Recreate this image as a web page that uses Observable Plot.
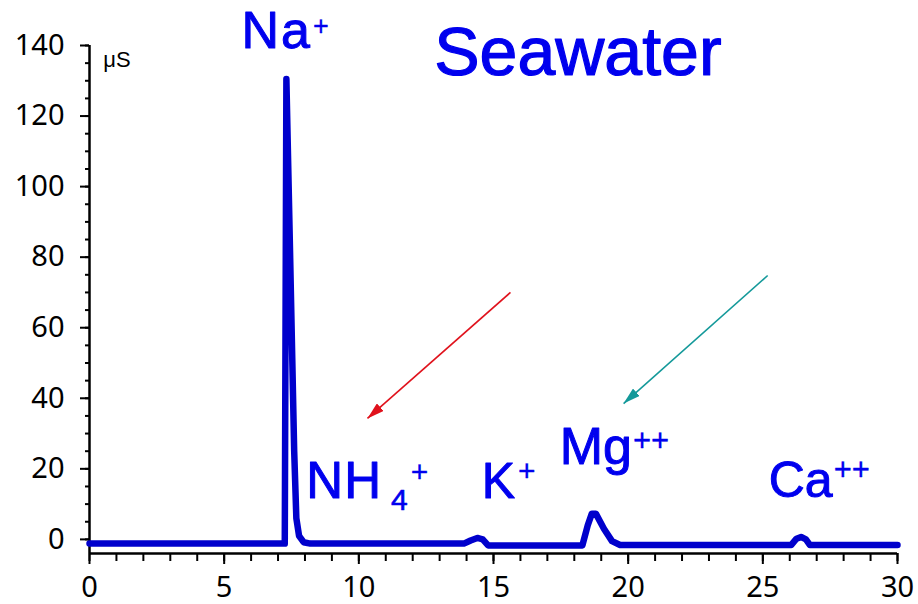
<!DOCTYPE html>
<html>
<head>
<meta charset="utf-8">
<script src="https://cdn.jsdelivr.net/npm/d3@7"></script>
<script src="https://cdn.jsdelivr.net/npm/@observablehq/plot@0.6"></script>
<style>
  body { margin: 0; background: #fff; }
  #chart svg { display: block; }
</style>
</head>
<body>
<div id="chart"></div>
<script>
// ---- data ----
const time   = [0, 7.25, 7.31, 7.45, 7.6, 7.68, 7.78, 7.95, 8.2, 13.9, 14.15, 14.4, 14.6, 14.8, 18.3, 18.5, 18.65, 18.8, 19.1, 19.4, 19.7, 26.05, 26.25, 26.42, 26.6, 26.75, 30];
const signal = [-1.2, -1.2, 130.5, 80, 25, 6, 1, -0.8, -1.2, -1.2, -0.3, 0.4, 0.0, -1.7, -1.7, 4, 7.3, 7.3, 3, -0.5, -1.6, -1.6, 0.2, 0.7, 0.0, -1.6, -1.6];

const xMajorTicks = [0, 5, 10, 15, 20, 25, 30];
const xMinorTicks = [0,1,2,3,4,5,6,7,8,9,10,11,12,13,14,15,16,17,18,19,20,21,22,23,24,25,26,27,28,29,30];
const yMajorTicks = [0, 20, 40, 60, 80, 100, 120, 140];
const yMinorTicks = [0,5,10,15,20,25,30,35,40,45,50,55,60,65,70,75,80,85,90,95,100,105,110,115,120,125,130,135,140];

const titleText = "Seawater";
const unitText = "μS";

const ionNames = ["Na", "NH", "K", "Mg", "Ca"];
const ionSub   = ["", "4", "", "", ""];
const ionSup   = ["+", "+", "+", "++", "++"];

// annotation anchors (data coordinates: retention time, µS)
const ionX = [5.64, 8.05, 14.56, 17.46, 25.22];
const ionY = [139.4, 11.6, 11.6, 21.5, 11.9];
const titleX = 12.80, titleY = 131.5;
const unitX = 0.51, unitY = 133.8;

// arrows (data coordinates)
const arrowX1 = [15.63, 25.18];
const arrowY1 = [70.0, 74.8];
const arrowX2 = [10.32, 19.83];
const arrowY2 = [34.3, 38.5];
const arrowColors = ["#e0121c", "#14999a"];

// ---- build tables ----
const series = time.map((t, i) => ({t, v: signal[i]}));
const ions = ionNames.map((n, i) => ({name: n, x: ionX[i], y: ionY[i], sub: ionSub[i], sup: ionSup[i]}));
const arrows = arrowX1.map((x1, i) => ({x1, y1: arrowY1[i], x2: arrowX2[i], y2: arrowY2[i], color: arrowColors[i]}));

// per-label typography
const ionStyle = [
  {size: 52, spacing: 2, supSize: 27, supDy: -13, supDx: 1},
  {size: 51, spacing: 1, supSize: 30, supDy: -28, supDx: 3, subSize: 30, subDy: 12, subDx: 9},
  {size: 50, spacing: 0, supSize: 30, supDy: -17, supDx: 3},
  {size: 52, spacing: 0, supSize: 31, supDy: -13, supDx: 1},
  {size: 50, spacing: 0, supSize: 31, supDy: -17, supDx: 1}
];

const BLUE_TEXT = "#0000ee";
const BLUE_LINE = "#0000cc";
const FONT = "'Liberation Sans', Arial, sans-serif";
const TICK_FONT = "'Noto Sans', 'Liberation Sans', sans-serif";

const chart = Plot.plot({
  width: 918,
  height: 604,
  marginLeft: 89,
  marginRight: 21,
  marginTop: 45,
  marginBottom: 51,
  x: {domain: [0, 30]},
  y: {domain: [-4, 140]},
  style: {fontFamily: TICK_FONT, fontSize: "29px", background: "white", color: "black", overflow: "visible"},
  marks: [
    Plot.axisY({ticks: yMinorTicks, tickSize: 4, text: null, label: null, strokeWidth: 2}),
    Plot.axisY({ticks: yMajorTicks, tickSize: 9, tickPadding: 16, label: null, strokeWidth: 2, fontSize: 29}),
    Plot.axisX({ticks: xMinorTicks, tickSize: 8, text: null, label: null, strokeWidth: 2}),
    Plot.axisX({ticks: xMajorTicks, tickSize: 11, tickPadding: 12, label: null, strokeWidth: 2, fontSize: 29}),
    Plot.ruleX([0], {y1: -4, y2: 140, strokeWidth: 2.5, stroke: "black"}),
    Plot.ruleY([-4], {x1: 0, x2: 30, strokeWidth: 2.5, stroke: "black"}),
    Plot.line(series, {x: "t", y: "v", stroke: BLUE_LINE, strokeWidth: 6.5, strokeLinejoin: "round", strokeLinecap: "round"}),
    Plot.link(arrows, {x1: "x1", y1: "y1", x2: "x2", y2: "y2", stroke: "color", strokeWidth: 1.6}),
    Plot.text([titleText], {x: titleX, y: titleY, text: d => d, textAnchor: "start", lineAnchor: "bottom", fontSize: 68, fill: BLUE_TEXT, stroke: BLUE_TEXT, strokeWidth: 1.2, fontFamily: FONT}),
    Plot.text([unitText], {x: unitX, y: unitY, text: d => d, textAnchor: "start", lineAnchor: "bottom", fontSize: 22, fill: "black", fontFamily: FONT}),
    Plot.text(ions, {x: "x", y: "y", text: "name", textAnchor: "start", lineAnchor: "bottom", fontSize: 50, fill: BLUE_TEXT, stroke: BLUE_TEXT, strokeWidth: 1, fontFamily: FONT})
  ]
});

// ---- post-process: sub/superscripts and filled arrow heads ----
const svgNS = "http://www.w3.org/2000/svg";
const textGroups = chart.querySelectorAll('g[aria-label="text"]');
const ionGroup = textGroups[textGroups.length - 1];
const ionTexts = ionGroup ? ionGroup.querySelectorAll("text") : [];
ionTexts.forEach((el, i) => {
  const d = ions[i];
  const s = ionStyle[i];
  el.textContent = "";
  el.setAttribute("font-size", s.size);
  const base = document.createElementNS(svgNS, "tspan");
  if (s.spacing) base.setAttribute("letter-spacing", s.spacing);
  base.textContent = d.name;
  el.appendChild(base);
  if (d.sub) {
    const ts = document.createElementNS(svgNS, "tspan");
    ts.setAttribute("font-size", s.subSize);
    ts.setAttribute("dy", s.subDy);
    ts.setAttribute("dx", s.subDx || 0);
    ts.setAttribute("stroke-width", 0.6);
    ts.textContent = d.sub;
    el.appendChild(ts);
  }
  if (d.sup) {
    const ts = document.createElementNS(svgNS, "tspan");
    ts.setAttribute("font-size", s.supSize);
    ts.setAttribute("dy", s.supDy);
    ts.setAttribute("dx", s.supDx);
    ts.setAttribute("stroke-width", 0.3);
    ts.textContent = d.sup;
    el.appendChild(ts);
  }
});

let defs = chart.querySelector("defs");
if (!defs) { defs = document.createElementNS(svgNS, "defs"); chart.insertBefore(defs, chart.firstChild); }
const linkGroup = chart.querySelector('g[aria-label="link"]');
const linkPaths = linkGroup ? linkGroup.querySelectorAll("path") : [];
linkPaths.forEach((p, i) => {
  const color = arrows[i].color;
  const m = document.createElementNS(svgNS, "marker");
  m.setAttribute("id", "head" + i);
  m.setAttribute("viewBox", "-17 -5 17 10");
  m.setAttribute("markerWidth", 17);
  m.setAttribute("markerHeight", 10);
  m.setAttribute("refX", 0);
  m.setAttribute("refY", 0);
  m.setAttribute("markerUnits", "userSpaceOnUse");
  m.setAttribute("orient", "auto");
  const path = document.createElementNS(svgNS, "path");
  path.setAttribute("d", "M-17,-5L0,0L-17,5Z");
  path.setAttribute("fill", color);
  path.setAttribute("stroke", "none");
  m.appendChild(path);
  defs.appendChild(m);
  p.setAttribute("marker-end", `url(#head${i})`);
});

document.getElementById("chart").appendChild(chart);
</script>
</body>
</html>
